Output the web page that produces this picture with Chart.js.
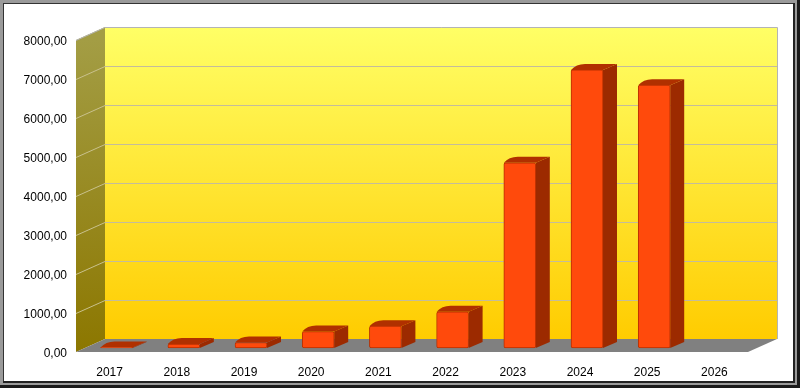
<!DOCTYPE html>
<html>
<head>
<meta charset="utf-8">
<script src="https://cdn.jsdelivr.net/npm/chart.js@4/dist/chart.umd.min.js"></script>
<style>
  html, body { margin: 0; padding: 0; background: #fff; }
  #wrap { width: 800px; height: 388px; }
</style>
</head>
<body>
<div id="wrap"><canvas id="barChart" width="800" height="388"></canvas></div>
<script>
const years = ["2017", "2018", "2019", "2020", "2021", "2022", "2023", "2024", "2025", "2026"];
const values = [15, 100, 140, 420, 560, 930, 4750, 7130, 6740, null];
const yMin = 0;
const yMax = 8000;
const yStep = 1000;

// depth of the 3d box, and where the bars sit inside it
const DEPTH_X = 29, DEPTH_Y = 13;
const BAR_X = 7, BAR_Y = 4;
const BAR_DX = 14, BAR_DY = 6;

const threeD = {
  id: "threeD",
  beforeDraw(chart) {
    const ctx = chart.ctx;
    const a = chart.chartArea;
    const y = chart.scales.y;
    ctx.save();
    ctx.fillStyle = "#fff";
    ctx.fillRect(0, 0, chart.width, chart.height);

    // back wall
    const wallGrad = ctx.createLinearGradient(0, a.top - DEPTH_Y, 0, a.bottom - DEPTH_Y);
    wallGrad.addColorStop(0, "#ffff66");
    wallGrad.addColorStop(1, "#ffcc00");
    ctx.fillStyle = wallGrad;
    ctx.fillRect(a.left + DEPTH_X, a.top - DEPTH_Y, a.right - a.left, a.bottom - a.top);

    // left side wall
    const sideGrad = ctx.createLinearGradient(0, a.top, 0, a.bottom);
    sideGrad.addColorStop(0, "#a39d44");
    sideGrad.addColorStop(1, "#8c7700");
    ctx.fillStyle = sideGrad;
    ctx.beginPath();
    ctx.moveTo(a.left, a.top);
    ctx.lineTo(a.left + DEPTH_X, a.top - DEPTH_Y);
    ctx.lineTo(a.left + DEPTH_X, a.bottom - DEPTH_Y);
    ctx.lineTo(a.left, a.bottom);
    ctx.closePath();
    ctx.fill();

    // grid lines
    ctx.lineWidth = 1;
    for (let v = yMin + yStep; v < yMax; v += yStep) {
      const py = Math.round(y.getPixelForValue(v)) + 0.5;
      ctx.strokeStyle = "#c4bc9a";
      ctx.beginPath();
      ctx.moveTo(a.left + DEPTH_X, py - DEPTH_Y);
      ctx.lineTo(a.right + DEPTH_X, py - DEPTH_Y);
      ctx.stroke();
      ctx.strokeStyle = "#c9c18c";
      ctx.beginPath();
      ctx.moveTo(a.left, py);
      ctx.lineTo(a.left + DEPTH_X, py - DEPTH_Y);
      ctx.stroke();
    }

    // wall edges
    ctx.strokeStyle = "#b4b4b4";
    ctx.beginPath();
    ctx.moveTo(a.left, a.top + 0.5);
    ctx.lineTo(a.left + DEPTH_X, a.top - DEPTH_Y + 0.5);
    ctx.lineTo(a.right + DEPTH_X + 0.5, a.top - DEPTH_Y + 0.5);
    ctx.lineTo(a.right + DEPTH_X + 0.5, a.bottom - DEPTH_Y);
    ctx.stroke();

    // floor
    ctx.fillStyle = "#808080";
    ctx.beginPath();
    ctx.moveTo(a.left, a.bottom);
    ctx.lineTo(a.left + DEPTH_X, a.bottom - DEPTH_Y);
    ctx.lineTo(a.right + DEPTH_X, a.bottom - DEPTH_Y);
    ctx.lineTo(a.right, a.bottom);
    ctx.closePath();
    ctx.fill();
    ctx.restore();
  },
  beforeDatasetsDraw(chart) {
    const ctx = chart.ctx;
    ctx.save();
    ctx.translate(BAR_X, -BAR_Y);
    chart.getDatasetMeta(0).data.forEach((bar, i) => {
      if (values[i] === null) return;
      const p = bar.getProps(["x", "y", "base", "width"], true);
      const l = p.x - p.width / 2, r = p.x + p.width / 2;
      // side
      ctx.fillStyle = "#9c2a00";
      ctx.beginPath();
      ctx.moveTo(r, p.y);
      ctx.lineTo(r + BAR_DX, p.y - BAR_DY);
      ctx.lineTo(r + BAR_DX, p.base - BAR_DY);
      ctx.lineTo(r, p.base);
      ctx.closePath();
      ctx.fill();
      // top
      ctx.fillStyle = "#b03000";
      ctx.beginPath();
      ctx.moveTo(l, p.y);
      ctx.quadraticCurveTo(l + BAR_DX / 2 - 2, p.y - BAR_DY, l + BAR_DX, p.y - BAR_DY);
      ctx.lineTo(r + BAR_DX, p.y - BAR_DY);
      ctx.lineTo(r, p.y);
      ctx.closePath();
      ctx.fill();
    });
  },
  afterDatasetsDraw(chart) {
    chart.ctx.restore();
  },
  afterDraw(chart) {
    const ctx = chart.ctx;
    const w = chart.width, h = chart.height;
    ctx.save();
    // window style frame
    ctx.fillStyle = "#9a9a9a";
    ctx.fillRect(0, 0, w, 3);
    ctx.fillRect(0, 0, 3, h);
    ctx.fillStyle = "#333";
    ctx.fillRect(3, 3, w - 6, 1);
    ctx.fillRect(3, 3, 1, h - 6);
    ctx.fillStyle = "#222";
    ctx.fillRect(w - 7, 3, 2, h - 8);
    ctx.fillRect(3, h - 7, w - 8, 2);
    ctx.fillStyle = "#9a9a9a";
    ctx.fillRect(w - 5, 0, 2, h);
    ctx.fillRect(0, h - 5, w, 2);
    ctx.fillStyle = "#1a1a1a";
    ctx.fillRect(w - 3, 0, 3, h);
    ctx.fillRect(0, h - 3, w, 3);
    ctx.restore();
  }
};

const ctx = document.getElementById("barChart").getContext("2d");
const barChart = new Chart(ctx, {
  type: "bar",
  data: {
    labels: years,
    datasets: [
      {
        data: values,
        backgroundColor: "#ff4a0c",
        borderColor: "#b83000",
        borderWidth: 1,
        borderRadius: 2,
        borderSkipped: false,
        barThickness: 32,
        clip: false,
      },
    ],
  },
  options: {
    responsive: false,
    animation: false,
    layout: {
      padding: { left: 0, top: 40, right: 52, bottom: 0 },
    },
    scales: {
      x: {
        grid: { display: false, drawTicks: false },
        border: { display: false },
        ticks: {
          padding: 13,
          color: "#000",
          font: { family: "Liberation Sans", size: 12 },
          maxRotation: 0,
        },
        afterFit(scale) {
          scale.height = 36;
        },
      },
      y: {
        min: yMin,
        max: yMax,
        grid: { display: false, drawTicks: false },
        border: { display: false },
        ticks: {
          stepSize: yStep,
          padding: 9,
          labelOffset: 2,
          color: "#000",
          font: { family: "Liberation Sans", size: 12 },
          callback: (v) => v.toFixed(2).replace(".", ","),
        },
        afterFit(scale) {
          scale.width = 76;
        },
      },
    },
    plugins: {
      legend: { display: false },
      tooltip: { enabled: false },
    },
  },
  plugins: [threeD],
});
</script>
</body>
</html>
